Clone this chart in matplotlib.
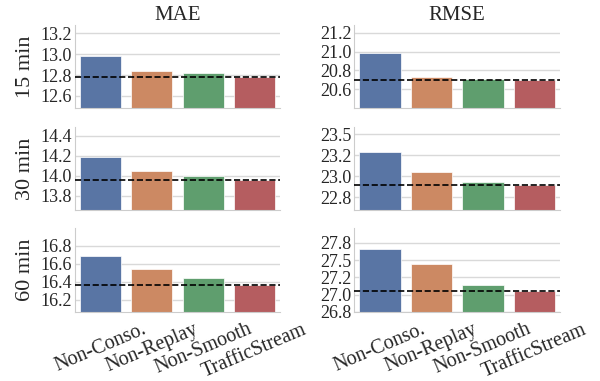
import matplotlib
matplotlib.use("Agg")
import matplotlib.pyplot as plt
import seaborn as sns

sns.set_style("whitegrid")
plt.rcParams['font.family'] = ['Liberation Serif', 'DejaVu Serif']

methods = ["Non-Conso.", "Non-Replay", "Non-Smooth", "TrafficStream"]
horizons = ["15 min", "30 min", "60 min"]
metrics = ["MAE", "RMSE"]

mae_15 = [12.98, 12.84, 12.82, 12.78]
mae_30 = [14.19, 14.05, 14.00, 13.96]
mae_60 = [16.69, 16.54, 16.44, 16.37]
rmse_15 = [20.98, 20.73, 20.71, 20.70]
rmse_30 = [23.29, 23.05, 22.93, 22.90]
rmse_60 = [27.66, 27.44, 27.14, 27.05]

mae_15_ticks = [12.6, 12.8, 13.0, 13.2]
mae_30_ticks = [13.8, 14.0, 14.2, 14.4]
mae_60_ticks = [16.2, 16.4, 16.6, 16.8]
rmse_15_ticks = [20.6, 20.8, 21.0, 21.2]
rmse_30_ticks = [22.75, 23.0, 23.25, 23.5]
rmse_60_ticks = [26.75, 27.0, 27.25, 27.5, 27.75]

data = [[mae_15, rmse_15], [mae_30, rmse_30], [mae_60, rmse_60]]
ticks = [[mae_15_ticks, rmse_15_ticks], [mae_30_ticks, rmse_30_ticks], [mae_60_ticks, rmse_60_ticks]]

palette = [sns.desaturate(c, 0.75) for c in sns.color_palette("deep", 4)]

fig = plt.figure(figsize=(6.0, 3.81), dpi=100)

col_x = [0.125, 0.5905]
col_w = [0.3417, 0.343]
row_b = [0.7157, 0.4488, 0.1819]
row_h = 0.2184

text_color = "#262626"

for r in range(3):
    for c in range(2):
        ax = fig.add_axes([col_x[c], row_b[r], col_w[c], row_h])
        vals = data[r][c]
        x = list(range(len(methods)))
        ax.bar(x, vals, width=0.8, color=palette, edgecolor="white", linewidth=0.5, zorder=2)
        ax.axhline(vals[-1], color="black", ls="--", lw=1.2, zorder=3)
        ax.set_xlim(-0.5, len(methods) - 0.5)
        ax.set_ylim(min(vals) - 0.3, max(vals) + 0.3)
        ax.set_yticks(ticks[r][c])
        ax.set_yticklabels(["%.1f" % t for t in ticks[r][c]], fontsize=13, color=text_color)
        ax.grid(axis="x", visible=False)
        ax.grid(axis="y", color="#d9d9d9", lw=1.0)
        ax.set_axisbelow(True)
        for s in ["top", "right"]:
            ax.spines[s].set_visible(False)
        for s in ["left", "bottom"]:
            ax.spines[s].set_color("#cccccc")
        ax.tick_params(axis="y", length=0, pad=2)
        ax.tick_params(axis="x", length=0, pad=6)
        ax.set_xticks(x)
        if r == 2:
            ax.set_xticklabels(methods, rotation=23, ha="center", fontsize=14.5, color=text_color)
        else:
            ax.set_xticklabels([])
        if r == 0:
            ax.set_title(metrics[c], fontsize=15, color=text_color, pad=4)
        if c == 0:
            ax.set_ylabel(horizons[r], fontsize=16, color=text_color, labelpad=4)

fig.savefig("out.png", dpi=100)
